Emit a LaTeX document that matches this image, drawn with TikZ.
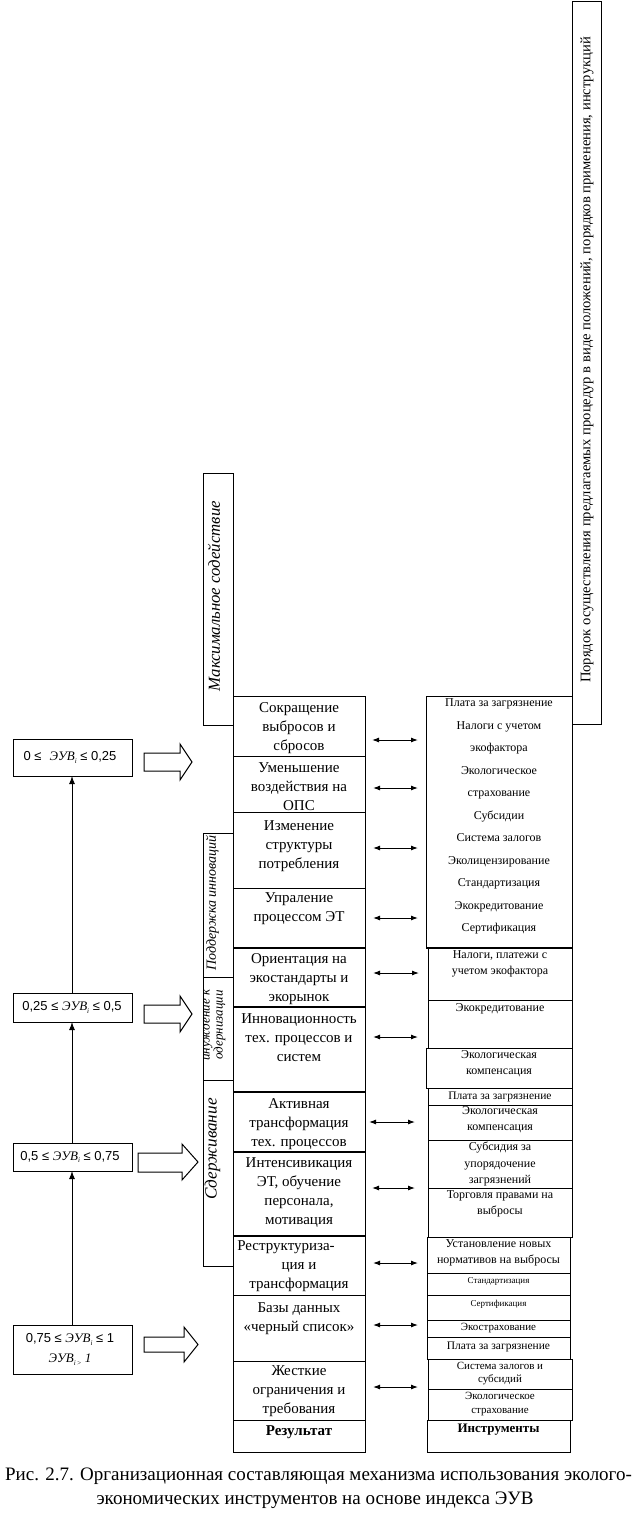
\documentclass[tikz,border=0pt]{standalone}
\usepackage{fontspec}
\setmainfont{Liberation Serif}
\newfontfamily\sansf{Liberation Sans}
\usetikzlibrary{arrows.meta}
\newcommand\bx[5]{%
  \pgfmathsetmacro\bxw{#4-#2}\pgfmathsetmacro\bxh{#5-#3}%
  \node[bxs,minimum width=\bxw pt,minimum height=\bxh pt] (#1) at (#2,#3) {};}
\newcommand\evi[1]{\textit{ЭУВ}\raisebox{-2.5pt}{\fontsize{7}{7}\selectfont\itshape #1}}
\begin{document}
\begin{tikzpicture}[x=1pt,y=-1pt,
  bxs/.style={draw,line width=1pt,inner sep=0pt,outer sep=0pt,anchor=north west},
  mt/.style={font=\fontsize{15}{19}\selectfont,align=center,inner sep=0pt,anchor=north,
    execute at begin node={\rule{0pt}{11pt}}},
  rt/.style={font=\fontsize{12}{16.5}\selectfont,align=center,inner sep=0pt,anchor=north,
    execute at begin node={\rule{0pt}{9pt}}},
  vt/.style={rotate=90,font=\fontsize{#1}{#1}\selectfont\itshape,inner sep=0pt},
  lt/.style={font=\fontsize{13}{20}\selectfont,align=center,inner sep=0pt},
  dbl/.style={{Latex[length=7pt,width=5pt]}-{Latex[length=7pt,width=5pt]},line width=1pt},
  up/.style={-{Latex[length=8pt,width=6pt]},line width=1pt},
  blk/.style={draw,line width=1pt,line join=miter},
  thk/.style={line width=2.2pt}
]
\useasboundingbox (0,0) rectangle (638,1525);
\fill[white] (0,0) rectangle (638,1525);

% ---------- middle column: results ----------
\bx{m1}{233}{696}{365}{756}
\bx{m2}{233}{756}{365}{812}
\bx{m3}{233}{812}{365}{888}
\bx{m4}{233}{888}{365}{948}
\bx{m5}{233}{948}{365}{1007}
\bx{m6}{233}{1007}{365}{1092}
\bx{m7}{233}{1092}{365}{1152}
\bx{m8}{233}{1152}{365}{1236}
\bx{m9}{233}{1236}{365}{1295}
\bx{m10}{233}{1295}{365}{1361}
\bx{m11}{233}{1361}{365}{1420}
\bx{m12}{233}{1420}{365}{1452}
\foreach \n in {m4,m5,m6,m7,m8}{\draw[thk] (\n.south west) -- (\n.south east);}

\node[mt] (tm1) at (299,702) {Сокращение\\выбросов и\\сбросов};
\node[mt] (tm2) at (299,762) {Уменьшение\\воздействия на\\ОПС};
\node[mt] (tm3) at (299,820) {Изменение\\структуры\\потребления};
\node[mt] (tm4) at (299,892) {Упраление\\процессом ЭТ};
\node[mt] (tm5) at (299,953) {Ориентация на\\экостандарты и\\экорынок};
\node[mt] (tm6) at (299,1013) {Инновационность\\тех. процессов и\\систем};
\node[mt] (tm7) at (299,1098) {Активная\\трансформация\\тех. процессов};
\node[mt] (tm8) at (299,1157) {Интенсивикация\\ЭТ, обучение\\персонала,\\мотивация};
\node[mt] (tm9) at (299,1240) {Реструктуриза-\hspace*{26pt}\\ция и\\трансформация};
\node[mt] (tm10) at (299,1302) {Базы данных\\«черный список»};
\node[mt] (tm11) at (299,1365) {Жесткие\\ограничения и\\требования};
\node[mt] (tm12) at (299,1424.5) {\textbf{Результат}};

% ---------- right column: instruments ----------
\bx{r1}{426}{696}{572}{948}
\bx{r2}{428}{948}{572}{1000}
\bx{r3}{428}{1000}{572}{1048}
\bx{r4}{426}{1048}{572}{1088}
\bx{r5}{428}{1088}{572}{1105}
\bx{r6}{428}{1105}{572}{1140}
\bx{r7}{428}{1140}{572}{1188}
\bx{r8}{428}{1188}{572}{1237}
\bx{r9}{427}{1237}{570}{1273}
\bx{r10}{427}{1273}{570}{1295}
\bx{r11}{427}{1295}{570}{1320}
\bx{r12}{427}{1320}{570}{1337}
\bx{r13}{427}{1337}{570}{1359}
\bx{r14}{428}{1359}{572}{1389}
\bx{r15}{428}{1389}{572}{1420}
\bx{r16}{427}{1420}{570}{1452}
\draw[thk] (r1.south west) -- (r1.south east);

\node[rt,font=\fontsize{12}{22.5}\selectfont] (tr1) at (499,698.5)
  {Плата за загрязнение\\Налоги с учетом\\экофактора\\Экологическое\\страхование\\Субсидии\\Система залогов\\Эколицензирование\\Стандартизация\\Экокредитование\\Сертификация};
\node[rt] (tr2) at (500,950) {Налоги, платежи с\\учетом экофактора};
\node[rt] (tr3) at (500,1002) {Экокредитование};
\node[rt] (tr4) at (499,1050) {Экологическая\\компенсация};
\node[rt,font=\fontsize{11.5}{14}\selectfont] (tr5) at (500,1090) {Плата за загрязнение};
\node[rt] (tr6) at (500,1106) {Экологическая\\компенсация};
\node[rt] (tr7) at (500,1142) {Субсидия за\\упорядочение\\загрязнений};
\node[rt] (tr8) at (500,1190) {Торговля правами на\\выбросы};
\node[rt] (tr9) at (498.5,1239) {Установление новых\\нормативов на выбросы};
\node[rt,font=\fontsize{9}{11}\selectfont,execute at begin node={\rule{0pt}{7pt}}] (tr10) at (498.5,1274) {Стандартизация};
\node[rt,font=\fontsize{9}{11}\selectfont,execute at begin node={\rule{0pt}{7pt}}] (tr11) at (498.5,1297) {Сертификация};
\node[rt,font=\fontsize{11}{13}\selectfont] (tr12) at (498.5,1321.5) {Экострахование};
\node[rt,font=\fontsize{11.5}{13}\selectfont] (tr13) at (498.5,1340) {Плата за загрязнение};
\node[rt,font=\fontsize{11}{13}\selectfont] (tr14) at (500,1361.5) {Система залогов и\\субсидий};
\node[rt,font=\fontsize{11}{14}\selectfont] (tr15) at (500,1392) {Экологическое\\страхование};
\node[rt,font=\fontsize{13}{15}\selectfont\bfseries] (tr16) at (498.5,1423) {Инструменты};

% ---------- double arrows ----------
\foreach \i/\yy/\xa/\xb in {1/740/372/418, 2/788/373/418, 3/848/373/418, 4/918/373/418,
  5/973/373/419, 6/1037/373/418, 7/1122/369/415, 8/1188/372/415, 9/1263/373/418,
  10/1325/373/418, 11/1387/373/418}{
  \coordinate (al\i) at (\xa,\yy);
  \coordinate (ar\i) at (\xb,\yy);
  \draw[dbl] (al\i) -- (ar\i);
}

% ---------- left vertical strips ----------
\bx{s1}{203}{473}{233}{725}
\bx{s2}{203}{833}{233}{977}
\bx{s3}{203}{977}{233}{1080}
\bx{s4}{203}{1080}{233}{1266}
\node[vt=16.8] (ts1) at (214,596) {Максимальное содействие};
\node[vt=14] (ts2) at (212.5,903) {Поддержка инноваций};
\begin{scope}
  \clip (203,977) rectangle (233,1080);
  \node[vt=13,align=center,font=\fontsize{13}{9.5}\selectfont\itshape] (ts3) at (213,1025) {инуждение к\\одернизации};
\end{scope}
\node[vt=17.2] (ts4) at (212.5,1149) {Сдерживание};

% ---------- right tall box ----------
\bx{p1}{572}{2}{601}{724}
\node[rotate=90,inner sep=0pt,font=\fontsize{14.6}{16}\selectfont] (tp1) at (587,360)
  {Порядок осуществления предлагаемых процедур в виде положений, порядков применения, инструкций};

% ---------- left index boxes ----------
\bx{b1}{13}{739}{132}{776}
\bx{b2}{13}{993}{132}{1022}
\bx{b3}{13}{1143}{132}{1171}
\bx{b4}{13}{1325}{132}{1374}
\node[lt] (tb1) at (70,757.5) {{\sansf 0 ≤}\hspace{8pt}\evi{i}{\sansf\ ≤ 0,25}};
\node[lt] (tb2) at (72,1007.5) {{\sansf 0,25 ≤ }\evi{i}{\sansf\ ≤ 0,5}};
\node[lt] (tb3) at (70,1157) {{\sansf 0,5 ≤ }\evi{i}{\sansf\ ≤ 0,75}};
\node[lt] (tb4) at (70,1349.5) {{\sansf 0,75 ≤ }\evi{i}{\sansf\ ≤ 1}\\\evi{i\,>}\ \textit{1}};

\draw[up] (b4.north -| 72,0) -- (b3.south -| 72,0);
\draw[up] (b3.north -| 72,0) -- (b2.south -| 72,0);
\draw[up] (b2.north -| 72,0) -- (b1.south -| 72,0);

% ---------- block arrows ----------
\draw[blk] (144,753) -- (180,753) -- (180,744) -- (192,762) -- (180,780) -- (180,771) -- (144,771) -- cycle;
\draw[blk] (144,1005) -- (180,1005) -- (180,996) -- (192,1014) -- (180,1032) -- (180,1023) -- (144,1023) -- cycle;
\draw[blk] (138,1153) -- (182,1153) -- (182,1144) -- (198,1162) -- (182,1180) -- (182,1172) -- (138,1172) -- cycle;
\draw[blk] (144,1337) -- (184,1337) -- (184,1327) -- (198,1344.5) -- (184,1362) -- (184,1352) -- (144,1352) -- cycle;

% ---------- caption ----------
\node[inner sep=0pt,font=\fontsize{19}{24}\selectfont] (cap1) at (318.5,1476) {Рис. 2.7. Организационная составляющая механизма использования эколого-};
\node[inner sep=0pt,font=\fontsize{19}{24}\selectfont] (cap2) at (315,1500) {экономических инструментов на основе индекса ЭУВ};
\end{tikzpicture}
\end{document}
